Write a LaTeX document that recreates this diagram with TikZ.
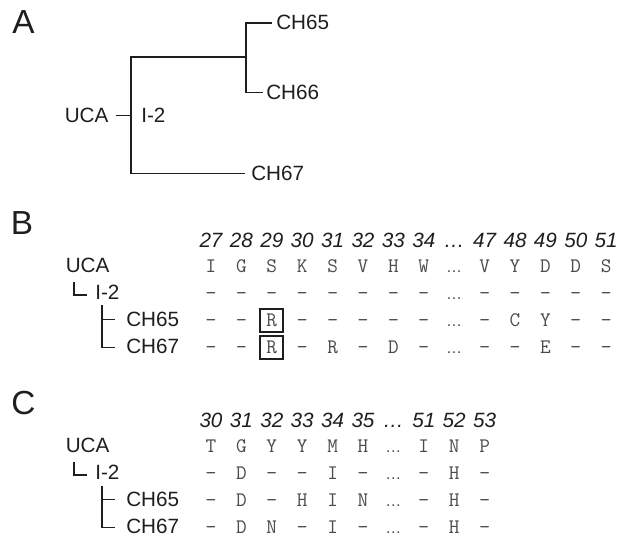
\documentclass[tikz,border=0pt]{standalone}
\usepackage{graphicx}
\usepackage{fontspec}
\setmainfont{Liberation Sans}
\definecolor{ink}{RGB}{30,30,30}
\definecolor{seqgray}{RGB}{75,75,75}
% hyphen marking an unchanged residue
\newcommand{\samechar}{\scalebox{1.05}[1]{-}}
\begin{document}
\begin{tikzpicture}[x=0.75pt,y=-0.75pt,
  panel/.style={anchor=base west, inner sep=0pt, text=ink, font=\fontsize{25pt}{28pt}\selectfont},
  lbl/.style={anchor=base west, inner sep=0pt, text=ink, font=\fontsize{15.5pt}{18pt}\selectfont},
  posnum/.style={anchor=base, inner sep=0pt, text=ink, font=\fontsize{15.5pt}{18pt}\selectfont\itshape},
  res/.style={anchor=base, inner sep=0pt, text=seqgray, font=\ttfamily\fontsize{15.5pt}{18pt}\selectfont},
  gapdots/.style={anchor=base, inner sep=0pt, text=seqgray, font=\fontsize{12pt}{14pt}\selectfont},
  hit/.style={res, draw=ink, line width=1.3pt, minimum width=17.25pt, minimum height=17.25pt},
  branch/.style={draw=ink, line width=1.3pt}]
\useasboundingbox (0,0) rectangle (622,539);

% ---------- A: tree ----------
\node[panel] (pA) at (12,33) {A};
\node[lbl] (aUCA) at (64.5,122.5) {UCA};
\node[lbl] (aI2)  at (141,122.5) {I-2};
\node[lbl] (a65)  at (276,30) {CH65};
\node[lbl] (a66)  at (266,99.5) {CH66};
\node[lbl] (a67)  at (251,180.5) {CH67};
\coordinate (jA) at (246,57);
\coordinate (kA) at (131,57);
\draw[branch] ([xshift=-3pt]a65.west) -| (jA) |- ([xshift=-2.25pt]a66.west);
\draw[branch] (jA) -- (kA) |- ([xshift=-4.5pt]a67.west);
\draw[branch] ([xshift=5.25pt]aUCA.east) -- (aUCA.east -| kA);

% ---------- B: heavy chain alignment ----------
\node[panel] (pB) at (10.5,234) {B};
\node[lbl] (bUCA) at (65.5,272) {UCA};
\node[lbl] (bI2)  at (95,299.5) {I-2};
\node[lbl] (b65)  at (126,326.5) {CH65};
\node[lbl] (b67)  at (126,353.5) {CH67};
\coordinate (bt1) at (74,282);
\coordinate (bt2) at (102,305);
\draw[branch] (bt1) |- ([xshift=-6pt,yshift=-2.25pt]bI2.west);
\draw[branch] (bt2) |- ([xshift=-8.25pt]b65.west);
\draw[branch] (bt2) |- ([xshift=-8.25pt,yshift=-0.75pt]b67.west);

\foreach \t [count=\k from 0] in {27,28,29,30,31,32,33,34,…,47,48,49,50,51}
  \node[posnum] (bn\k) at (211+30.4*\k,247.5) {\t};

\foreach \yy/\row [count=\r] in {
    272/{res/I,res/G,res/S,res/K,res/S,res/V,res/H,res/W,gapdots/…,res/V,res/Y,res/D,res/D,res/S},
    299.5/{res/\samechar,res/\samechar,res/\samechar,res/\samechar,res/\samechar,res/\samechar,res/\samechar,res/\samechar,gapdots/…,res/\samechar,res/\samechar,res/\samechar,res/\samechar,res/\samechar},
    326.5/{res/\samechar,res/\samechar,hit/R,res/\samechar,res/\samechar,res/\samechar,res/\samechar,res/\samechar,gapdots/…,res/\samechar,res/C,res/Y,res/\samechar,res/\samechar},
    353.5/{res/\samechar,res/\samechar,hit/R,res/\samechar,res/R,res/\samechar,res/D,res/\samechar,gapdots/…,res/\samechar,res/\samechar,res/E,res/\samechar,res/\samechar}}
  \foreach \s/\t [count=\k from 0] in \row
    \node[\s] (b\r-\k) at (211+30.4*\k,\yy) {\t};

% ---------- C: light chain alignment ----------
\node[panel] (pC) at (11,414) {C};
\node[lbl] (cUCA) at (65.5,452) {UCA};
\node[lbl] (cI2)  at (95,479.5) {I-2};
\node[lbl] (c65)  at (126,506.5) {CH65};
\node[lbl] (c67)  at (126,533.5) {CH67};
\coordinate (ct1) at (74,462);
\coordinate (ct2) at (102,486);
\draw[branch] (ct1) |- ([xshift=-6pt,yshift=-2.25pt]cI2.west);
\draw[branch] (ct2) |- ([xshift=-8.25pt]c65.west);
\draw[branch] (ct2) |- ([xshift=-8.25pt,yshift=-0.75pt]c67.west);

\foreach \t [count=\k from 0] in {30,31,32,33,34,35,…,51,52,53}
  \node[posnum] (cn\k) at (211+30.4*\k,427) {\t};

\foreach \yy/\row [count=\r] in {
    452/{res/T,res/G,res/Y,res/Y,res/M,res/H,gapdots/…,res/I,res/N,res/P},
    479.5/{res/\samechar,res/D,res/\samechar,res/\samechar,res/I,res/\samechar,gapdots/…,res/\samechar,res/H,res/\samechar},
    506.5/{res/\samechar,res/D,res/\samechar,res/H,res/I,res/N,gapdots/…,res/\samechar,res/H,res/\samechar},
    533.5/{res/\samechar,res/D,res/N,res/\samechar,res/I,res/\samechar,gapdots/…,res/\samechar,res/H,res/\samechar}}
  \foreach \s/\t [count=\k from 0] in \row
    \node[\s] (c\r-\k) at (211+30.4*\k,\yy) {\t};
\end{tikzpicture}
\end{document}
